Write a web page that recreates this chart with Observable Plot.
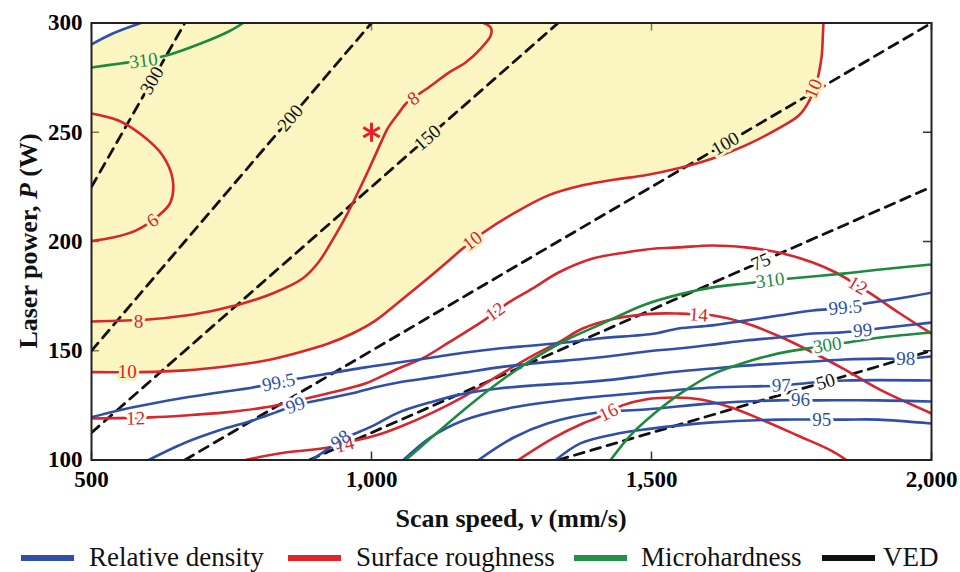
<!DOCTYPE html>
<html>
<head>
<meta charset="utf-8">
<script src="https://cdn.jsdelivr.net/npm/d3@7"></script>
<script src="https://cdn.jsdelivr.net/npm/@observablehq/plot@0.6"></script>
<style>
  body { margin: 0; background: #fff; }
  #wrap { width: 960px; height: 572px; position: relative; overflow: hidden; }
  #legend { position: relative; width: 960px; height: 34px; font-family: "Liberation Serif", "Times New Roman", serif; font-size: 27px; color: #111; }
  #legend .sw { position: absolute; top: 17px; height: 6px; width: 53px; }
  #legend .tx { position: absolute; top: 0; line-height: 38px; white-space: nowrap; }
</style>
</head>
<body>
<div id="wrap"><div id="chart"></div><div id="legend"></div></div>
<script>
// ---------------- data ----------------
const xTicks = [500, 1000, 1500, 2000];
const yTicks = [100, 150, 200, 250, 300];

// Surface roughness contours [scan speed v, laser power P]
const roughness6  = [[500,258.6],[548,255.4],[591,248.5],[627,239.4],[645,228.4],[641,217.9],[620,211.9],[579,205],[538,201.8],[500,200.2]];
const roughness8  = [[500,163.4],[602,164.3],[668,166.1],[727,168.9],[770,171.6],[823,176.2],[877,183.1],[905,190.4],[930,200.5],[957,212.8],[980,224.7],[1000,235.7],[1016,244.8],[1030,252.2],[1048,258.6],[1063,263.5],[1102,270.5],[1138,277.3],[1168,281.9],[1195,288.3],[1213,294.3],[1213,297.9],[1200,300]];
const roughness10 = [[500,140.2],[588,140.2],[668,141],[739,142.8],[811,145.5],[870,149.2],[923,153.3],[966,157.9],[1007,163.8],[1048,172.1],[1096,182.1],[1132,189.9],[1163,196.8],[1200,204.1],[1257,213.3],[1316,221.1],[1377,225.7],[1436,228.4],[1489,230.3],[1548,233.5],[1609,238],[1668,244],[1727,251.8],[1763,257.7],[1780,263.6],[1793,271.4],[1798,276],[1804,285.1],[1806,294.3],[1807,300]];
const roughness12 = [[500,119],[605,119.5],[668,120.4],[739,121.8],[811,124.1],[870,127.3],[923,130.5],[966,133.3],[989,135],[1048,141.9],[1091,146.5],[1138,153.8],[1200,163.8],[1245,172.1],[1288,178.5],[1334,185.8],[1395,192.2],[1454,195],[1507,196.8],[1548,197.3],[1609,198.2],[1668,197.3],[1727,195],[1788,190.4],[1829,185.8],[1888,176.7],[1941,167.5],[2000,157.8]];
const roughness14 = [[775,100],[846,103.4],[923,105.7],[950,107.6],[1007,111.2],[1048,114.9],[1109,121.7],[1168,129.5],[1227,138.7],[1288,147.8],[1334,153.8],[1377,160.2],[1436,164.8],[1507,167],[1552,167],[1584,166.6],[1611,166.1],[1670,162.5],[1729,156.5],[1788,149.2],[1848,141],[1907,132.3],[2000,121.3]];
const roughness16 = [[1262,100],[1323,109.8],[1377,116.7],[1400,119],[1423,121.8],[1448,125],[1489,127.7],[1543,128.6],[1588,127.7],[1641,124.1],[1700,118.1],[1761,111.2],[1820,104.4],[1848,100]];

// Relative density contours
const densityTop = [[500,290.2],[538,295.2],[588,300]];
const density995 = [[500,119.6],[548,122.7],[609,125.9],[668,128.6],[727,130.9],[788,133.2],[834,135.5],[870,137.3],[936,140.1],[989,142.4],[1048,144.6],[1109,146.9],[1168,149.2],[1227,151],[1288,152.4],[1346,153.8],[1405,155.6],[1507,157.9],[1548,160.2],[1609,161.6],[1668,163.8],[1727,166.1],[1788,168.4],[1846,169.8],[1882,171.6],[1941,173.9],[2000,176.6]];
const density99  = [[602,100],[668,108],[727,113.5],[788,118.1],[829,121.8],[864,125],[905,127.3],[966,130.5],[1007,133.3],[1048,135.5],[1109,137.8],[1168,140.1],[1227,142.4],[1288,144.2],[1346,145.5],[1405,146.9],[1507,150.1],[1548,151],[1609,152.8],[1668,154.7],[1727,156.1],[1788,157.9],[1834,158.3],[1877,159.3],[1905,160.2],[2000,162.9]];
const density98  = [[893,100],[918,104.3],[945,109.3],[971,112.1],[1007,116.2],[1048,121.7],[1109,126.7],[1168,130.5],[1227,132.7],[1288,134.1],[1373,135.5],[1432,136.8],[1489,138.7],[1548,140.5],[1609,141.9],[1668,143.2],[1727,144.2],[1788,145.1],[1846,146],[1909,146.4],[1954,146.4],[2000,147.4]];
const density97  = [[1057,100],[1105,110.3],[1164,118.1],[1254,124.1],[1373,128.2],[1489,130.9],[1609,133.2],[1732,134.1],[1788,135.5],[1846,136.4],[2000,136.4]];
const density96  = [[1191,100],[1254,110.3],[1314,116.7],[1404,121.7],[1489,123.1],[1609,125.9],[1727,127.3],[1766,127.3],[1798,127.3],[1905,127.3],[2000,126.8]];
const density95  = [[1329,100],[1373,107.6],[1432,111.7],[1489,114],[1609,117.2],[1727,118.5],[1804,118.5],[1846,118.5],[1905,118.5],[2000,116.7]];

// Microhardness contours
const hardness310a = [[500,279.6],[552,281.5],[593,282.8],[634,285.1],[695,290.6],[745,296.1],[771,300]];
const hardness310b = [[1061,100],[1105,109.8],[1168,123.6],[1227,135.5],[1284,145.5],[1346,154.7],[1405,161.6],[1489,171.2],[1550,175.8],[1609,179],[1668,180.8],[1712,182.2],[1748,183.1],[1846,185.4],[1909,187.2],[2000,189.5]];
const hardness300  = [[1427,100],[1462,111.2],[1507,121.7],[1552,130.5],[1609,139.2],[1668,144.7],[1727,148.8],[1780,151.1],[1814,152.5],[1850,153.8],[1909,156.1],[2000,158.4]];

// Volumetric energy density lines (end points)
const ved300 = [[500,225],[666.7,300]];
const ved200 = [[500,150],[1000,300]];
const ved150 = [[500,112.5],[1333.3,300]];
const ved100 = [[666.7,100],[2000,300]];
const ved75  = [[888.9,100],[2000,225]];
const ved50  = [[1333.3,100],[2000,150]];

// contour labels
const roughnessLabels = [
  {on:"R6", text:"6", v:609, P:209.6},
  {on:"R8", text:"8", v:584, P:163.4},
  {on:"R8", text:"8", v:1075, P:265.4},
  {on:"R10", text:"10", v:564, P:140.2},
  {on:"R10", text:"10", v:1180, P:200.3},
  {on:"R10", text:"10", v:1789, P:270},
  {on:"R12", text:"12", v:579, P:119},
  {on:"R12", text:"12", v:1221, P:167.8},
  {on:"R12", text:"12", v:1868, P:179.9},
  {on:"R14", text:"14", v:952, P:107},
  {on:"R14", text:"14", v:1584, P:166.4},
  {on:"R16", text:"16", v:1423, P:121.8}
];
const densityLabels = [
  {on:"D995", text:"99.5", v:834, P:135.5},
  {on:"D995", text:"99.5", v:1846, P:169.8},
  {on:"D99", text:"99", v:864, P:125},
  {on:"D99", text:"99", v:1877, P:159.3},
  {on:"D98", text:"98", v:945, P:109.3},
  {on:"D98", text:"98", v:1954, P:146.4},
  {on:"D97", text:"97", v:1732, P:134.1},
  {on:"D96", text:"96", v:1766, P:127.3},
  {on:"D95", text:"95", v:1804, P:118.5}
];
const hardnessLabels = [
  {on:"H310a", text:"310", v:593, P:282.8},
  {on:"H310b", text:"310", v:1712, P:182.2},
  {on:"H300", text:"300", v:1814, P:152.5}
];
const vedLabels = [
  {on:"V300", text:"300", v:608, P:273.6},
  {on:"V200", text:"200", v:855, P:256.5},
  {on:"V150", text:"150", v:1100, P:247.5},
  {on:"V100", text:"100", v:1632, P:244.8},
  {on:"V75", text:"75", v:1695, P:190.7},
  {on:"V50", text:"50", v:1811, P:135.8}
];
const optimum = [{v:1000, P:250}];

const legendItems = ["Relative density", "Surface roughness", "Microhardness", "VED"];

// ---------------- styling / layout ----------------
const W = 960, H = 538, ML = 91, MR = 29, MT = 22.5, MB = 78.5;
const innerW = W - ML - MR, innerH = H - MT - MB;
const YELLOW_FILL = "#f3e66b", YELLOW_BG = "#faf5c2";
const COL = {density:"#2f4fa9", roughness:"#d8262c", hardness:"#1d8a3f", ved:"#111111"};
const SERIF = "'Liberation Serif', 'Times New Roman', serif";

const contours = [
  {id:"R6", kind:"roughness", pts:roughness6},
  {id:"R8", kind:"roughness", pts:roughness8},
  {id:"R10", kind:"roughness", pts:roughness10},
  {id:"R12", kind:"roughness", pts:roughness12},
  {id:"R14", kind:"roughness", pts:roughness14},
  {id:"R16", kind:"roughness", pts:roughness16},
  {id:"Dtop", kind:"density", pts:densityTop},
  {id:"D995", kind:"density", pts:density995},
  {id:"D99", kind:"density", pts:density99},
  {id:"D98", kind:"density", pts:density98},
  {id:"D97", kind:"density", pts:density97},
  {id:"D96", kind:"density", pts:density96},
  {id:"D95", kind:"density", pts:density95},
  {id:"H310a", kind:"hardness", pts:hardness310a},
  {id:"H310b", kind:"hardness", pts:hardness310b},
  {id:"H300", kind:"hardness", pts:hardness300}
];
const vedSets = [
  {id:"V300", pts:ved300},{id:"V200", pts:ved200},{id:"V150", pts:ved150},
  {id:"V100", pts:ved100},{id:"V75", pts:ved75},{id:"V50", pts:ved50}
];
const byId = new Map([...contours, ...vedSets].map(c => [c.id, c.pts]));

const lineRows = contours.flatMap(c => c.pts.map(([v,P]) => ({id:c.id, v, P, color:COL[c.kind]})));
const vedRows = vedSets.flatMap(c => c.pts.map(([v,P]) => ({id:c.id, v, P})));
const areaRows = roughness10.map(([v,P]) => ({v, P}));
const cornerRows = densityTop.map(([v,P]) => ({v, P}));

// screen-space direction of a curve at a label
const kx = innerW / 1500, ky = innerH / 200;
function angleAt(pts, v, P) {
  let best = Infinity, ang = 0;
  const x = v*kx, y = -P*ky;
  for (let i = 0; i < pts.length - 1; i++) {
    const x0 = pts[i][0]*kx, y0 = -pts[i][1]*ky, x1 = pts[i+1][0]*kx, y1 = -pts[i+1][1]*ky;
    const dx = x1-x0, dy = y1-y0, L = dx*dx+dy*dy;
    let t = L ? ((x-x0)*dx + (y-y0)*dy)/L : 0; t = Math.max(0, Math.min(1, t));
    const d = Math.hypot(x-(x0+t*dx), y-(y0+t*dy));
    if (d < best) { best = d; ang = Math.atan2(dy, dx)*180/Math.PI; }
  }
  if (ang > 90) ang -= 180;
  if (ang < -90) ang += 180;
  return ang;
}
function interp(pts, v) {
  for (let i = 0; i < pts.length-1; i++) {
    const [a,pa] = pts[i], [b,pb] = pts[i+1];
    if (v >= a && v <= b) return b === a ? pa : pa + (pb-pa)*(v-a)/(b-a);
  }
  return null;
}
function inYellow(l) {
  if (l.on === "R10") return true;
  const b = interp(roughness10, l.v);
  return b !== null && l.P >= b;
}
const labelRows = [
  ...roughnessLabels.map(l => ({...l, color:COL.roughness})),
  ...densityLabels.map(l => ({...l, color:COL.density})),
  ...hardnessLabels.map(l => ({...l, color:COL.hardness})),
  ...vedLabels.map(l => ({...l, color:"#111"}))
].map(l => ({...l, rot: angleAt(byId.get(l.on), l.v, l.P), bg: inYellow(l) ? YELLOW_BG : "#ffffff"}));

// ---------------- chart ----------------
const chart = Plot.plot({
  width: W, height: H,
  marginLeft: ML, marginRight: MR, marginTop: MT, marginBottom: MB,
  x: {domain: [500, 2000]},
  y: {domain: [100, 300]},
  color: {type: "identity"},
  style: {fontFamily: SERIF, background: "#fff", overflow: "visible"},
  marks: [
    // inward ticks on all four sides
    Plot.tickX(xTicks, {x: d => d, insetBottom: innerH - 8, stroke: "#333", strokeWidth: 1.5}),
    Plot.tickX(xTicks, {x: d => d, insetTop: innerH - 8, stroke: "#333", strokeWidth: 1.5}),
    Plot.tickY(yTicks, {y: d => d, insetRight: innerW - 8, stroke: "#333", strokeWidth: 1.5}),
    Plot.tickY(yTicks, {y: d => d, insetLeft: innerW - 8, stroke: "#333", strokeWidth: 1.5}),
    // feasible (yellow) region
    Plot.areaY(areaRows, {x: "v", y1: "P", y2: () => 300, fill: YELLOW_FILL, fillOpacity: 0.42, curve: "catmull-rom"}),
    Plot.areaY(cornerRows, {x: "v", y1: "P", y2: () => 300, fill: "#fff", curve: "catmull-rom"}),
    // VED dashed lines
    Plot.line(vedRows, {x: "v", y: "P", z: "id", stroke: "#111", strokeWidth: 2.8, strokeDasharray: "10,7", clip: true}),
    // contours
    Plot.line(lineRows, {x: "v", y: "P", z: "id", stroke: "color", strokeWidth: 2.6, curve: "catmull-rom", clip: true}),
    // label halos (gap in the lines), then labels
    Plot.text(labelRows, {x: "v", y: "P", text: "text", rotate: "rot", fill: "bg", stroke: "bg", strokeWidth: 6, fontSize: 19, fontFamily: SERIF}),
    Plot.text(labelRows, {x: "v", y: "P", text: "text", rotate: "rot", fill: "color", fontSize: 19, fontFamily: SERIF}),
    // optimum marker
    Plot.dot(optimum, {x: "v", y: "P", symbol: "asterisk", r: 9, stroke: "#e8202a", strokeWidth: 3}),
    Plot.frame({stroke: "#222", strokeWidth: 2}),
    Plot.axisX({ticks: xTicks, tickFormat: d3.format(","), tickSize: 0, tickPadding: 11, fontSize: 23, fontWeight: "bold", label: null}),
    Plot.axisY({ticks: yTicks, tickSize: 0, tickPadding: 9, fontSize: 23, fontWeight: "bold", label: null})
  ]
});
document.getElementById("chart").appendChild(chart);

// axis titles with mixed styles
const svg = d3.select(chart);
const xt = svg.append("text").attr("x", ML + innerW/2).attr("y", 527)
  .attr("text-anchor", "middle").attr("font-family", SERIF).attr("font-size", 26).attr("font-weight", "bold").attr("fill", "#111");
xt.append("tspan").text("Scan speed, ");
xt.append("tspan").attr("font-style", "italic").text("v");
xt.append("tspan").text(" (mm/s)");
const yt = svg.append("text").attr("transform", `translate(37,${MT + innerH/2}) rotate(-90)`)
  .attr("text-anchor", "middle").attr("font-family", SERIF).attr("font-size", 26).attr("font-weight", "bold").attr("fill", "#111");
yt.append("tspan").text("Laser power, ");
yt.append("tspan").attr("font-style", "italic").text("P");
yt.append("tspan").text(" (W)");

// legend
const legColors = [COL.density, "#e0252b", "#1f9447", "#111"];
const swLeft = [21, 288, 574, 822], txLeft = [89, 356, 641, 883];
const leg = document.getElementById("legend");
legendItems.forEach((name, i) => {
  const sw = document.createElement("div");
  sw.className = "sw"; sw.style.left = swLeft[i] + "px"; sw.style.background = legColors[i];
  const tx = document.createElement("div");
  tx.className = "tx"; tx.style.left = txLeft[i] + "px"; tx.textContent = name;
  leg.appendChild(sw); leg.appendChild(tx);
});
</script>
</body>
</html>
